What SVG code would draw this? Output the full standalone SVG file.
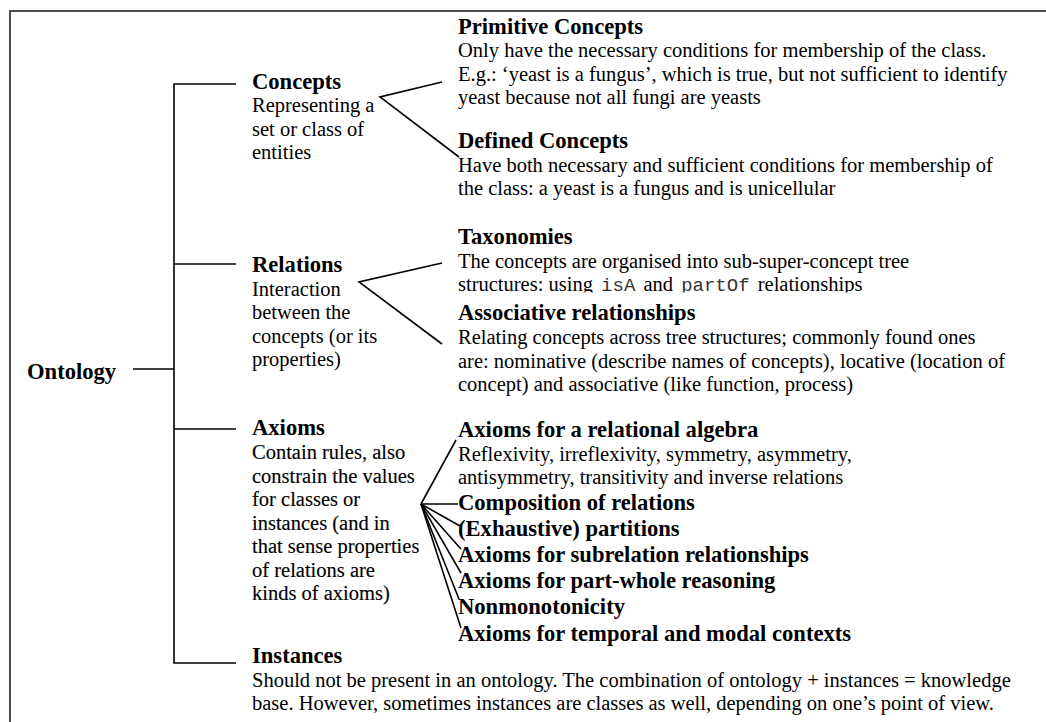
<svg xmlns="http://www.w3.org/2000/svg" width="1046" height="722" viewBox="0 0 1046 722" font-family="'Liberation Serif', Tinos, 'Times New Roman', Times, serif">
<style>
text{fill:#000}
.h{font-weight:bold;font-size:22.6px}
.b{font-size:20.5px}
.m{font-family:'Liberation Mono','Courier New',monospace;font-size:19px;fill:#333}
.heavy{stroke:#000;stroke-width:0.15}
.ln{stroke:#000;stroke-width:1.6;fill:none}
</style>
<defs>
<clipPath id="cut"><rect x="440" y="270" width="600" height="22.5"/></clipPath>
</defs>
<rect x="10" y="11" width="1100" height="800" fill="none" stroke="#222" stroke-width="1.6"/>
<g id="connectors">
<polyline class="ln" points="236,84 174,84 174,663 236,663"/>
<line class="ln" x1="174" y1="264" x2="236" y2="264"/>
<line class="ln" x1="174" y1="429" x2="236" y2="429"/>
<line class="ln" x1="133" y1="369" x2="174" y2="369"/>
<polyline class="ln" points="442,82 380,97 459,157"/>
<polyline class="ln" points="442,263 359,282 442,344"/>
<g class="ln" stroke-width="1.4">
<line x1="421" y1="504" x2="456" y2="440"/>
<line x1="421" y1="504" x2="458" y2="504"/>
<line x1="421" y1="504" x2="460" y2="526"/>
<line x1="421" y1="504" x2="461" y2="549"/>
<line x1="421" y1="504" x2="461" y2="573"/>
<line x1="421" y1="504" x2="459" y2="599"/>
<line x1="421" y1="504" x2="461" y2="628"/>
</g>
</g>
<g id="ontology"><text class="h" x="27" y="379">Ontology</text></g>
<g id="concepts">
<text class="h" x="252" y="89">Concepts</text>
<text class="b" x="252" y="112">Representing a</text>
<text class="b" x="252" y="135.5">set or class of</text>
<text class="b" x="252" y="159">entities</text>
</g>
<g id="primitive">
<text class="h" x="458" y="34">Primitive Concepts</text>
<text class="b" x="458" y="57">Only have the necessary conditions for membership of the class.</text>
<text class="b" x="458" y="81">E.g.: ‘yeast is a fungus’, which is true, but not sufficient to identify</text>
<text class="b" x="458" y="104">yeast because not all fungi are yeasts</text>
</g>
<g id="defined">
<text class="h" x="458" y="148">Defined Concepts</text>
<text class="b" x="458" y="171.5">Have both necessary and sufficient conditions for membership of</text>
<text class="b" x="458" y="195">the class: a yeast is a fungus and is unicellular</text>
</g>
<g id="relations">
<text class="h" x="252" y="272">Relations</text>
<text class="b" x="252" y="295.5">Interaction</text>
<text class="b" x="252" y="319">between the</text>
<text class="b" x="252" y="342.5">concepts (or its</text>
<text class="b" x="252" y="366">properties)</text>
</g>
<g id="taxonomies">
<text class="h" x="458" y="244">Taxonomies</text>
<text class="b" x="458" y="268">The concepts are organised into sub-super-concept tree</text>
<text class="b" x="458" y="291" clip-path="url(#cut)">structures: using <tspan class="m" dx="3">isA</tspan><tspan dx="3"> and </tspan><tspan class="m" dx="3">partOf</tspan><tspan dx="3"> relationships</tspan></text>
</g>
<g id="associative">
<text class="h" x="458" y="320">Associative relationships</text>
<text class="b" x="458" y="344">Relating concepts across tree structures; commonly found ones</text>
<text class="b" x="458" y="367.5">are: nominative (describe names of concepts), locative (location of</text>
<text class="b" x="458" y="391">concept) and associative (like function, process)</text>
</g>
<g id="axioms">
<text class="h" x="252" y="435">Axioms</text>
<g class="heavy">
<text class="b" x="252" y="459">Contain rules, also</text>
<text class="b" x="252" y="482.5">constrain the values</text>
<text class="b" x="252" y="506">for classes or</text>
<text class="b" x="252" y="529.5">instances (and in</text>
<text class="b" x="252" y="553">that sense properties</text>
<text class="b" x="252" y="576.5">of relations are</text>
<text class="b" x="252" y="600">kinds of axioms)</text>
</g>
</g>
<g id="relational-algebra">
<text class="h" x="458" y="437">Axioms for a relational algebra</text>
<text class="b" x="458" y="460.5">Reflexivity, irreflexivity, symmetry, asymmetry,</text>
<text class="b" x="458" y="484">antisymmetry, transitivity and inverse relations</text>
</g>
<g id="composition"><text class="h" x="458" y="510">Composition of relations</text></g>
<g id="partitions"><text class="h" x="458" y="536">(Exhaustive) partitions</text></g>
<g id="subrelation"><text class="h" x="458" y="562">Axioms for subrelation relationships</text></g>
<g id="part-whole"><text class="h" x="458" y="588">Axioms for part-whole reasoning</text></g>
<g id="nonmonotonicity"><text class="h" x="458" y="614">Nonmonotonicity</text></g>
<g id="temporal"><text class="h" x="458" y="641">Axioms for temporal and modal contexts</text></g>
<g id="instances">
<text class="h" x="252" y="663">Instances</text>
<text class="b" x="252" y="686.5">Should not be present in an ontology. The combination of ontology + instances = knowledge</text>
<text class="b" x="252" y="710">base. However, sometimes instances are classes as well, depending on one’s point of view.</text>
</g>
</svg>
